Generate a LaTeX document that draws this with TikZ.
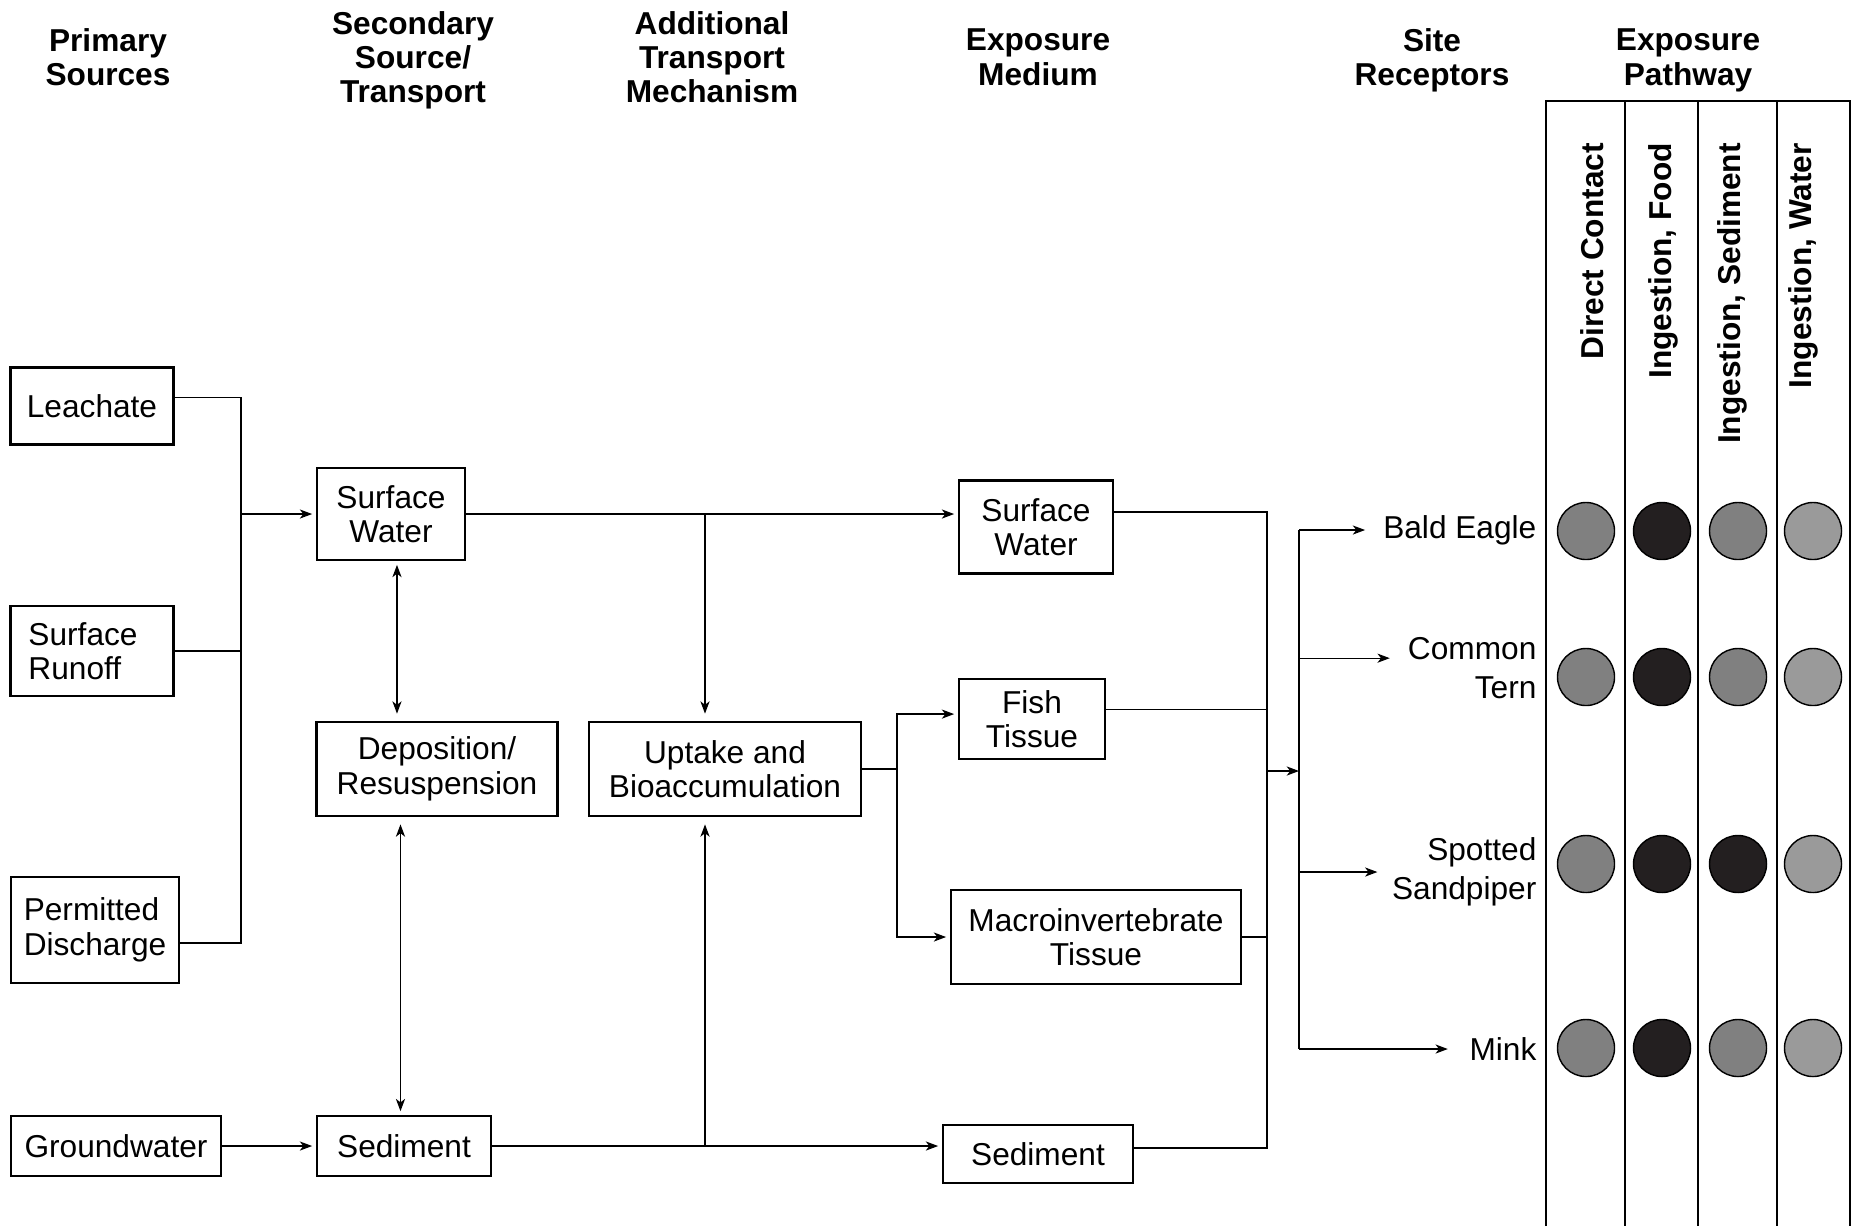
\documentclass[tikz,border=0pt]{standalone}
\usepackage{fontspec}
\setmainfont{Liberation Sans}
\usetikzlibrary{arrows.meta}
\definecolor{dotmid}{HTML}{808080}
\definecolor{dotdark}{HTML}{231F20}
\definecolor{dotlight}{HTML}{9A9A9A}

\begin{document}
\begin{tikzpicture}[x=0.01cm, y=-0.01cm,
  every node/.style={font=\fontsize{9}{9.8}\selectfont},
  box/.style={draw, line width=0.75pt, align=center, inner sep=0pt},
  head/.style={font=\fontsize{9}{9.8}\selectfont\bfseries, align=center, text depth=0pt},
  pw/.style={font=\fontsize{9}{9.8}\selectfont\bfseries, rotate=90, anchor=east, inner sep=1pt},
  rcp/.style={font=\fontsize{9}{11.2}\selectfont, align=right, anchor=east, inner sep=2pt},
  dot/.style={circle, draw, line width=0.4pt, minimum size=0.57cm, inner sep=0pt},
  line width=0.35pt,
  >={Stealth[length=3.5pt,width=2.6pt,inset=1pt]}]
  \useasboundingbox (0,0) rectangle (1855,1226);

  % column headers
  \node[head] (hprim) at (108,57) {Primary\\Sources};
  \node[head] (hsec) at (413,57) {Secondary\\Source/\\Transport};
  \node[head] (hadd) at (712,57) {Additional\\Transport\\Mechanism};
  \node[head] (hmed) at (1038,57) {Exposure\\Medium};
  \node[head] (hrec) at (1432,57) {Site\\Receptors};
  \node[head] (hpw) at (1688,57) {Exposure\\Pathway};

  % primary sources
  \node[box, minimum width=1.63cm, minimum height=0.77cm] (leach) at (92,406) {Leachate};
  \node[box, minimum width=1.63cm, minimum height=0.90cm, align=left, text width=1.27cm] (runoff) at (92,651) {Surface\\Runoff};
  \node[box, minimum width=1.68cm, minimum height=1.06cm, align=left] (disch) at (95,930) {Permitted\\Discharge};
  \node[box, minimum width=2.10cm, minimum height=0.60cm] (ground) at (116,1146) {Groundwater};

  % secondary source / transport
  \node[box, minimum width=1.48cm, minimum height=0.92cm] (sw2) at (391,514) {Surface\\Water};
  \node[box, minimum width=2.41cm, minimum height=0.94cm] (depo) at (437,769) {Deposition/\\Resuspension};
  \node[box, minimum width=1.74cm, minimum height=0.60cm] (sed2) at (404,1146) {Sediment};

  % additional transport
  \node[box, minimum width=2.72cm, minimum height=0.94cm] (uptake) at (725,769) {Uptake and\\Bioaccumulation};

  % exposure medium
  \node[box, minimum width=1.54cm, minimum height=0.93cm] (sw3) at (1036,527) {Surface\\Water};
  \node[box, minimum width=1.46cm, minimum height=0.80cm] (fish) at (1032,719) {Fish\\Tissue};
  \node[box, minimum width=2.90cm, minimum height=0.94cm] (macro) at (1096,937) {Macroinvertebrate\\Tissue};
  \node[box, minimum width=1.90cm, minimum height=0.58cm] (sed3) at (1038,1154) {Sediment};

  % site receptors
  \node[rcp] (eagle) at (1544,530) {Bald Eagle};
  \node[rcp] (tern) at (1544,668) {Common\\Tern};
  \node[rcp] (sandp) at (1544,872) {Spotted\\Sandpiper};
  \node[rcp] (mink) at (1544,1049) {Mink};

  % exposure pathway table
  \draw[line width=0.45pt] (1546,1226) |- (1850,101) -- (1850,1226);
  \foreach \x in {1625,1698,1777}
    \draw[line width=0.45pt] (\x,101) -- (\x,1226);
  \node[pw] (pdc) at (1592,139) {Direct Contact};
  \node[pw] (pfood) at (1663,139) {Ingestion, Food};
  \node[pw] (psed) at (1732,139) {Ingestion, Sediment};
  \node[pw] (pwat) at (1803,139) {Ingestion, Water};
  \foreach \y/\a/\b/\c/\d in {531/dotmid/dotdark/dotmid/dotlight,
      677/dotmid/dotdark/dotmid/dotlight,
      864/dotmid/dotdark/dotdark/dotlight,
      1048/dotmid/dotdark/dotmid/dotlight}
    \foreach \x/\f in {1586/\a,1662/\b,1738/\c,1813/\d}
      \node[dot, fill=\f] (dot\y-\x) at (\x,\y) {};

  % sources to secondary
  \coordinate (jsrc) at (241,514);
  \draw ([yshift=2.5pt]leach.east) -| (jsrc) |- ([yshift=-3.7pt]disch.east);
  \draw (runoff) -- (runoff -| jsrc);
  \draw[->, shorten >=1pt] (jsrc) -- (sw2);
  \draw[->, shorten >=1pt] (ground) -- (sed2);
  \draw[<->, shorten <=1pt, shorten >=2pt] ([xshift=1.7pt]sw2.south) -- ([xshift=1.7pt]sw2.south |- depo.north);
  \draw[<->, shorten <=2pt, shorten >=1pt] ([xshift=-1pt]sed2.north |- depo.south) -- ([xshift=-1pt]sed2.north);

  % secondary to exposure medium
  \coordinate (jtop) at (705,514);
  \draw[->, shorten >=1pt] (sw2) -- (sw2 -| sw3.west);
  \draw[->, shorten >=2pt] (jtop) -- (jtop |- uptake.north);
  \draw[->, shorten >=1pt] (sed2) -- (sed2 -| sed3.west);
  \draw[->, shorten >=2pt] (jtop |- sed2) -- (jtop |- uptake.south);
  \coordinate (jupt) at (897,769);
  \draw (uptake) -- (jupt);
  \draw[->, shorten >=1pt] (jupt) |- ([yshift=1.4pt]fish.west);
  \draw[->, shorten >=1pt] (jupt) |- (macro);

  % exposure medium to receptors
  \coordinate (jmed) at (1267,771);
  \draw ([yshift=4.3pt]sw3.east) -| (jmed) |- ([yshift=1.7pt]sed3.east);
  \draw ([yshift=2.8pt]fish.east) -- ([yshift=2.8pt]fish.east -| jmed);
  \draw (macro) -- (macro -| jmed);
  \coordinate (jrec) at (1299,771);
  \draw[->] (jmed) -- (jrec);
  \draw (jrec |- eagle) -- (jrec |- mink);
  \draw[->, shorten >=3pt] (jrec |- eagle) -- (eagle.west);
  \draw[->, shorten >=3pt] ([yshift=2.8pt]tern.west -| jrec) -- ([yshift=2.8pt]tern.west);
  \draw[->, shorten >=2pt] (jrec |- sandp) -- (sandp.west);
  \draw[->, shorten >=4pt] (jrec |- mink) -- (mink.west);
\end{tikzpicture}
\end{document}
